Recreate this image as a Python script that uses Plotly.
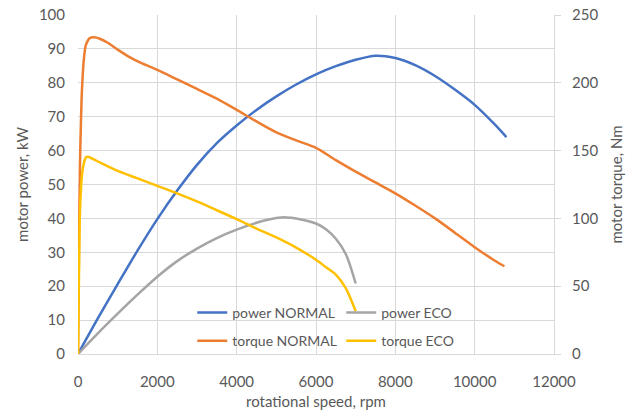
import plotly.graph_objects as go

# ---- data ----
rpm_power_normal = [0, 500, 1000, 1500, 2000, 2500, 3000, 3500, 4000, 4500, 5000, 5500, 6000,
                    6500, 7000, 7500, 8000, 8500, 9000, 9500, 10000, 10500, 10800]
power_normal = [0, 10.5, 20.6, 30.5, 39.8, 48.2, 55.8, 62.2, 67.4, 72, 76, 79.5, 82.5,
                84.9, 86.8, 88, 87.3, 85.2, 82, 78, 73.5, 67.8, 64]

rpm_power_eco = [0, 500, 1000, 1500, 2000, 2500, 3000, 3500, 4000, 4500, 5000, 5250, 5500,
                 6000, 6250, 6500, 6750, 7000]
power_eco = [0, 6.1, 11.9, 17.5, 22.8, 27.4, 31.1, 34.2, 36.7, 38.7, 40.1, 40.3, 40.0,
             38.5, 36.8, 34, 29.5, 20.8]

rpm_torque_normal = [0, 25, 50, 75, 100, 150, 200, 300, 400, 550, 750, 1000, 1300, 1600, 2000,
                     2500, 3000, 3500, 4000, 4500, 5000, 5500, 6000, 6500, 7000, 7500, 8000,
                     8500, 9000, 9500, 10000, 10500, 10750]
torque_normal = [0, 80, 140, 172, 195, 218, 228, 233, 233.5, 232.5, 229.5, 224.5, 219, 214.5, 209.5,
                 202.5, 195.5, 188.3, 180, 171.5, 163.5, 157.5, 152, 143, 134.5, 126.5, 118.5,
                 109.5, 100, 89.5, 78.8, 69, 64.7]

rpm_torque_eco = [0, 25, 50, 100, 150, 200, 250, 400, 600, 1000, 1500, 2000, 2500, 3000, 3500,
                  4000, 4500, 5000, 5500, 6000, 6250, 6500, 6750, 7000]
torque_eco = [0, 60, 105, 132, 141, 145, 145.5, 143.5, 140.5, 135, 129.5, 124, 118.5, 112.5,
              106, 99.5, 92.5, 86, 78.5, 69.5, 64, 58.5, 48.5, 31.5]

x_ticks = [0, 2000, 4000, 6000, 8000, 10000, 12000]
x_tick_labels = ["0", "2000", "4000", "6000", "8000", "10000", "12000"]
power_ticks = [0, 10, 20, 30, 40, 50, 60, 70, 80, 90, 100]
torque_ticks = [0, 50, 100, 150, 200, 250]

# ---- styling ----
FONT = "Lato"
TXT = "#595959"
GRID = "#d9d9d9"
BLUE, ORANGE, GRAY, YELLOW = "#4472C4", "#ED7D31", "#A5A5A5", "#FFC000"
LW = 2.5


def line(color):
    return dict(color=color, width=LW, shape="spline", smoothing=0.8)


fig = go.Figure()
fig.add_trace(go.Scatter(x=rpm_power_normal, y=power_normal, mode="lines", name="power NORMAL",
                         line=line(BLUE), legend="legend"))
fig.add_trace(go.Scatter(x=rpm_power_eco, y=power_eco, mode="lines", name="power ECO",
                         line=line(GRAY), legend="legend"))
fig.add_trace(go.Scatter(x=rpm_torque_normal, y=torque_normal, mode="lines", name="torque NORMAL",
                         line=line(ORANGE), yaxis="y2", legend="legend2"))
fig.add_trace(go.Scatter(x=rpm_torque_eco, y=torque_eco, mode="lines", name="torque ECO",
                         line=line(YELLOW), yaxis="y2", legend="legend2"))

legend_common = dict(orientation="h", xanchor="left", yanchor="middle",
                     bgcolor="rgba(0,0,0,0)", font=dict(family=FONT, size=14, color=TXT),
                     itemwidth=30, entrywidth=104, traceorder="normal")

fig.update_layout(
    width=640, height=414,
    margin=dict(l=78, r=86, t=15, b=60, autoexpand=False),
    paper_bgcolor="white", plot_bgcolor="white",
    font=dict(family=FONT, size=15, color=TXT),
    showlegend=True,
    legend=dict(x=0.24, y=0.121, **legend_common),
    legend2=dict(x=0.24, y=0.038, **legend_common),
    xaxis=dict(range=[0, 12000], tickvals=x_ticks, ticktext=x_tick_labels,
               showgrid=True, gridcolor=GRID, gridwidth=1, automargin=False,
               zeroline=False, showline=True, linecolor=GRID, linewidth=1,
               ticks="", ticklabelstandoff=14,
               title=dict(text="rotational speed, rpm", font=dict(size=15, color=TXT), standoff=7)),
    yaxis=dict(range=[0, 100], tickvals=power_ticks, showgrid=True, gridcolor=GRID, gridwidth=1,
               zeroline=False, showline=False, ticks="", ticklabelstandoff=12, automargin=False,
               title=dict(text="motor power, kW", font=dict(size=15, color=TXT), standoff=6)),
    yaxis2=dict(range=[0, 250], tickvals=torque_ticks, overlaying="y", side="right",
                showgrid=False, zeroline=False, showline=True, linecolor=GRID, linewidth=1,
                ticks="outside", ticklen=6, tickcolor=GRID, ticklabelstandoff=8, automargin=False,
                title=dict(text="motor torque, Nm", font=dict(size=15, color=TXT), standoff=14)),
)

fig.write_html("out.html")
